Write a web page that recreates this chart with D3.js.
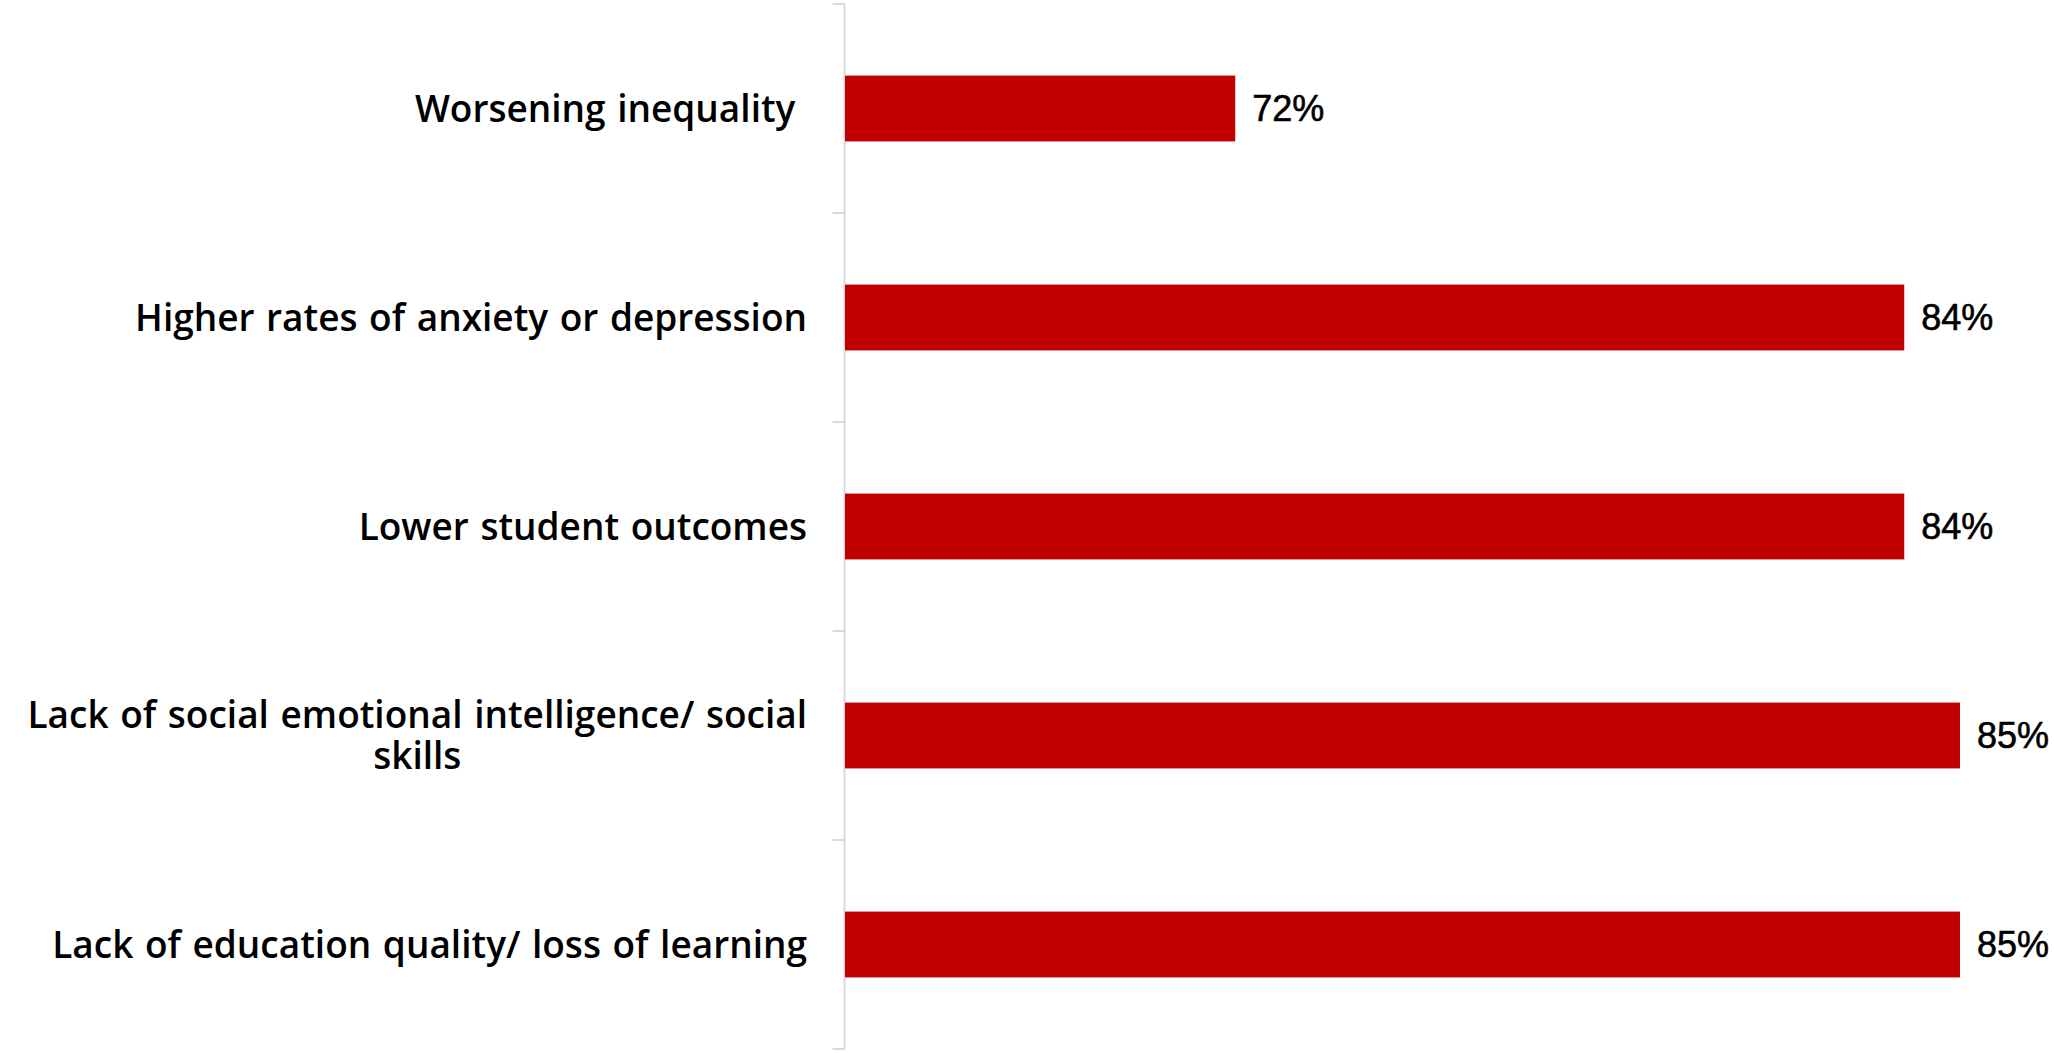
<!DOCTYPE html>
<html>
<head>
<meta charset="utf-8">
<script src="https://cdn.jsdelivr.net/npm/d3@7"></script>
<style>
  html, body { margin: 0; padding: 0; background: #ffffff; }
  svg { display: block; }
</style>
</head>
<body>
<svg id="chart" width="2054" height="1053"></svg>
<script>
// ---- data ----
const categories = [
  "Worsening inequality ",
  "Higher rates of anxiety or depression",
  "Lower student outcomes",
  "Lack of social emotional intelligence/ social\nskills",
  "Lack of education quality/ loss of learning"
];
const values = [72, 84, 84, 85, 85];
const valueLabels = ["72%", "84%", "84%", "85%", "85%"];
const xDomain = [65, 85];

// ---- layout ----
const svg = d3.select("#chart");
const axisX = 844.5;
const plotTop = 4, plotBottom = 1049;
const xRight = 1960;

const x = d3.scaleLinear().domain(xDomain).range([axisX + 0.5, xRight]);
const yCell = d3.scaleBand().domain(categories).range([plotTop, plotBottom]).padding(0);
const y = d3.scaleBand().domain(categories).range([plotTop, plotBottom])
  .paddingInner(0.685).paddingOuter(0.685 / 2);

// axis line and ticks
const g = svg.append("g");
g.append("line")
  .attr("x1", axisX).attr("x2", axisX)
  .attr("y1", plotTop).attr("y2", plotBottom)
  .attr("stroke", "#d9d9d9").attr("stroke-width", 2);
const tickYs = categories.map(c => yCell(c)).concat([plotBottom]);
g.selectAll("line.tick").data(tickYs).join("line")
  .attr("class", "tick")
  .attr("x1", axisX - 12).attr("x2", axisX)
  .attr("y1", d => d).attr("y2", d => d)
  .attr("stroke", "#d9d9d9").attr("stroke-width", 2);

// bars
svg.append("g").selectAll("rect").data(categories).join("rect")
  .attr("x", x(xDomain[0]))
  .attr("y", c => y(c))
  .attr("width", (c, i) => x(values[i]) - x(xDomain[0]))
  .attr("height", y.bandwidth())
  .attr("fill", "#C00000");

// value labels
svg.append("g").selectAll("text").data(categories).join("text")
  .attr("x", (c, i) => x(values[i]) + 17)
  .attr("y", c => y(c) + y.bandwidth() / 2)
  .attr("dy", "0.355em")
  .attr("font-family", "'Liberation Sans', Arial, sans-serif")
  .attr("font-size", 36)
  .attr("fill", "#000")
  .attr("stroke", "#000")
  .attr("stroke-width", 0.6)
  .text((c, i) => valueLabels[i]);

// category labels
const labelRight = 807;
const lineH = 41;
const lg = svg.append("g")
  .attr("font-family", "'Open Sans', sans-serif")
  .attr("font-weight", 600)
  .attr("font-size", 37)
  .attr("word-spacing", 2)
  .attr("fill", "#000");
categories.forEach(c => {
  const lines = c.split("\n");
  const cy = y(c) + y.bandwidth() / 2;
  const t = lg.append("text").style("white-space", "pre");
  if (lines.length === 1) {
    t.attr("x", labelRight).attr("y", cy).attr("dy", "0.355em")
      .attr("text-anchor", "end").text(lines[0]);
  } else {
    const tmp = lg.append("text").style("white-space", "pre");
    let w = 0;
    lines.forEach(l => { tmp.text(l); w = Math.max(w, tmp.node().getComputedTextLength()); });
    tmp.remove();
    const cx = labelRight - w / 2;
    t.attr("text-anchor", "middle");
    lines.forEach((l, k) => {
      t.append("tspan")
        .attr("x", cx)
        .attr("y", cy + (k - (lines.length - 1) / 2) * lineH)
        .attr("dy", "0.355em")
        .text(l);
    });
  }
});
</script>
</body>
</html>
